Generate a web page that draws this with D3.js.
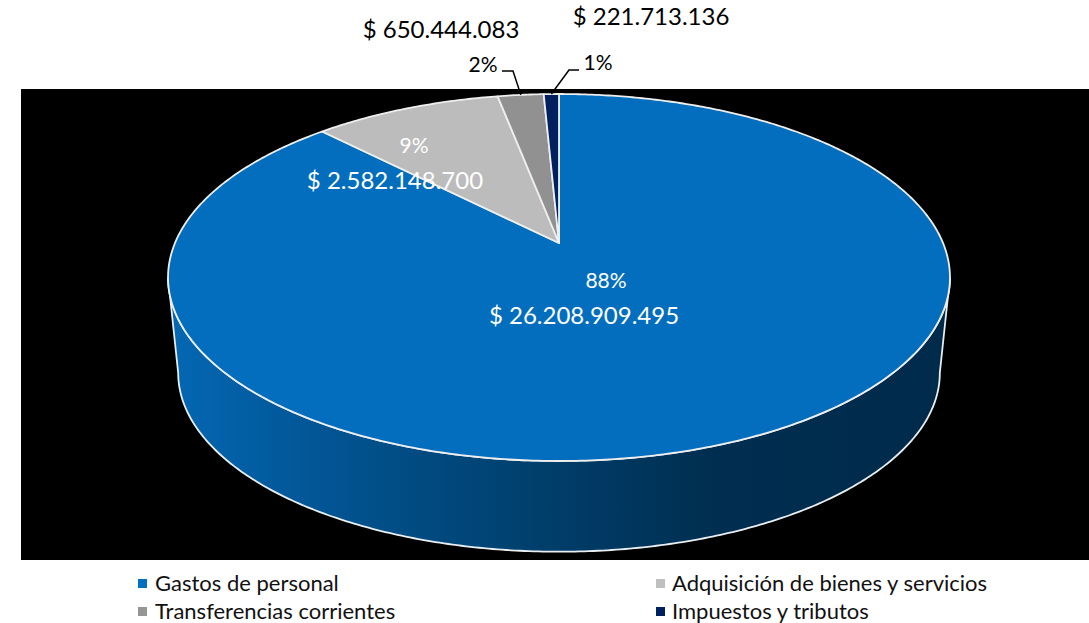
<!DOCTYPE html>
<html>
<head>
<meta charset="utf-8">
<script src="https://cdn.jsdelivr.net/npm/d3@7"></script>
<style>
    html, body { margin: 0; padding: 0; background: #fff; }
    svg { display: block; }
    text { font-family: Lato, "Open Sans", sans-serif; }
</style>
</head>
<body>
<svg id="chart"></svg>
<script>
const categories = ["Gastos de personal", "Adquisición de bienes y servicios", "Transferencias corrientes", "Impuestos y tributos"];
const amounts = [26208909495, 2582148700, 650444083, 221713136];
const amountLabels = ["$ 26.208.909.495", "$ 2.582.148.700", "$ 650.444.083", "$ 221.713.136"];
const percentLabels = ["88%", "9%", "2%", "1%"];
const sliceColors = ["#036ebd", "#bcbcbc", "#919191", "#002060"];
const legendColors = ["#0070c0", "#bfbfbf", "#969696", "#002060"];

const width = 1089, height = 623;

const svg = d3.select("#chart")
    .attr("width", width)
    .attr("height", height);

// Black plot area
svg.append("rect")
    .attr("x", 21)
    .attr("y", 89)
    .attr("width", width - 21)
    .attr("height", 471)
    .attr("fill", "#000");

// Perspective of the tilted disc: unit circle -> screen
const cx = 559, apexY = 243, k = 0.188, A = 384, B = 177;
const project = a => {
    const u = Math.sin(a), v = Math.cos(a), den = 1 + k * v;
    return [cx + A * u / den, apexY - B * v / den];
};
// Small angle correction, the original 3D view opens up the diagonals a little
const rim = a => {
    const s = Math.sin(2 * a);
    return project(a + 0.044 * s * Math.abs(s));
};
// Lower edge of the wall is the same rim, a bit smaller and further down
const lowerRim = a => {
    const [x, y] = project(a);
    return [cx + (x - cx) * 0.974, 373 + (y - 277.5) * 0.974];
};
const sample = (fn, a0, a1) => {
    const n = Math.max(2, Math.ceil(Math.abs(a1 - a0) / 0.01));
    return d3.range(n + 1).map(i => fn(a0 + (a1 - a0) * i / n));
};
const line = d3.line();

const defs = svg.append("defs");
const wallGradient = defs.append("linearGradient")
    .attr("id", "wall")
    .attr("gradientUnits", "userSpaceOnUse")
    .attr("x1", 168).attr("x2", 950).attr("y1", 0).attr("y2", 0);
[[0, "#0468b4"], [0.14, "#025a9d"], [0.3, "#014c84"], [0.5, "#003d69"], [0.7, "#002e50"], [1, "#002a4a"]]
    .forEach(([o, c]) => wallGradient.append("stop").attr("offset", o).attr("stop-color", c));

// Side wall, only the front of the disc shows
const aRight = Math.acos(-k), aLeft = 2 * Math.PI - aRight;
const wallPoints = sample(project, aRight, aLeft).concat(sample(lowerRim, aLeft, aRight));
svg.append("path")
    .attr("d", line(wallPoints) + "Z")
    .attr("fill", "url(#wall)")
    .attr("stroke", "#e8eef2")
    .attr("stroke-width", 1.8);

// Top face
const pie = d3.pie().sort(null).value(d => d);
const arcs = pie(amounts);

svg.selectAll(".slice")
    .data(arcs)
    .enter().append("path")
    .attr("class", "slice")
    .attr("d", d => line([[cx, apexY]].concat(sample(rim, d.startAngle, d.endAngle))) + "Z")
    .attr("fill", (d, i) => sliceColors[i])
    .attr("stroke", "#eeeeee")
    .attr("stroke-width", 1.8)
    .attr("stroke-linejoin", "round");

// Leader lines for the two small slices
const leaders = [
    { slice: 2, elbow: [513, 71], end: [502, 71] },
    { slice: 3, elbow: [569, 70], end: [579, 70] }
];
leaders.forEach(l => {
    const d = arcs[l.slice];
    const p = rim((d.startAngle + d.endAngle) / 2);
    svg.append("path")
        .attr("d", line([p, l.elbow, l.end]))
        .attr("fill", "none")
        .attr("stroke", "#000")
        .attr("stroke-width", 1.5);
});

// Data labels
const labels = [
    { text: percentLabels[0], x: 606, y: 288, size: 21, fill: "#fff" },
    { text: amountLabels[0], x: 584, y: 324, size: 24, fill: "#fff" },
    { text: percentLabels[1], x: 414, y: 153, size: 21, fill: "#fff" },
    { text: amountLabels[1], x: 395, y: 189, size: 24, fill: "#fff" },
    { text: amountLabels[2], x: 441, y: 38, size: 24, fill: "#000" },
    { text: percentLabels[2], x: 483, y: 72, size: 21, fill: "#000" },
    { text: amountLabels[3], x: 651, y: 25, size: 24, fill: "#000" },
    { text: percentLabels[3], x: 598, y: 70, size: 21, fill: "#000" }
];
svg.selectAll(".label")
    .data(labels)
    .enter().append("text")
    .attr("class", "label")
    .attr("x", d => d.x)
    .attr("y", d => d.y)
    .attr("font-size", d => d.size)
    .attr("text-anchor", "middle")
    .attr("fill", d => d.fill)
    .text(d => d.text);

// Legend, two columns
const legend = svg.selectAll(".legend-item")
    .data(categories)
    .enter().append("g")
    .attr("class", "legend-item")
    .attr("transform", (d, i) => `translate(${i % 2 ? 656 : 138},${i < 2 ? 583 : 611})`);

legend.append("rect")
    .attr("x", 0)
    .attr("y", -4)
    .attr("width", 9)
    .attr("height", 9)
    .attr("fill", (d, i) => legendColors[i]);

legend.append("text")
    .attr("x", (d, i) => i % 2 ? 16 : 17)
    .attr("y", 8)
    .attr("font-size", 22)
    .attr("fill", "#111")
    .text(d => d);
</script>
</body>
</html>
